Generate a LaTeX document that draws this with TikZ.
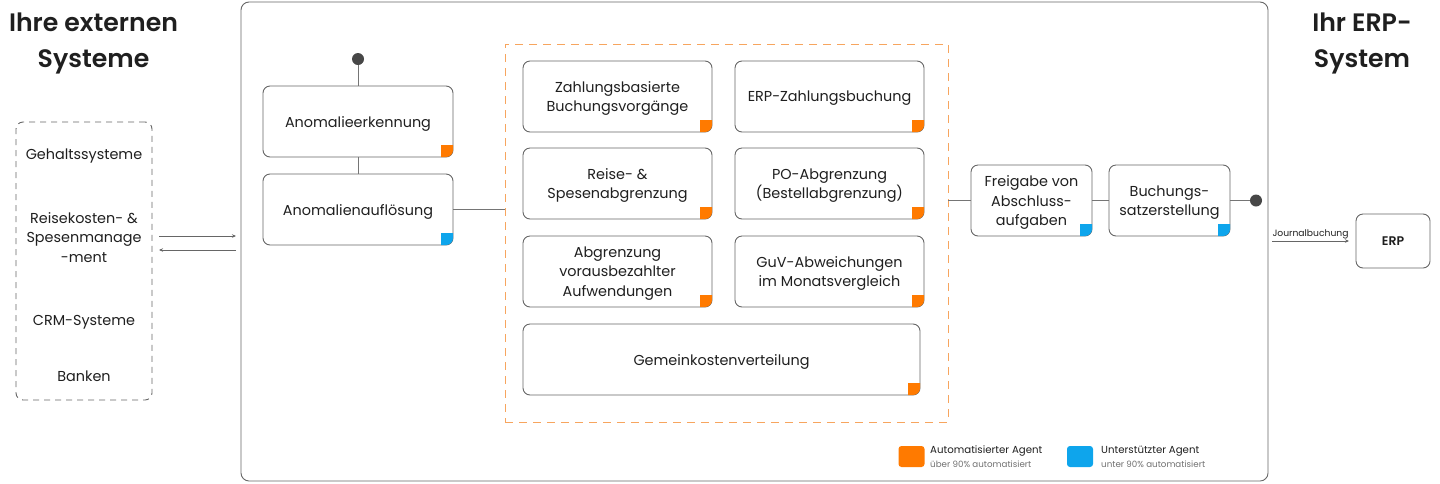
\documentclass[tikz,border=0pt]{standalone}
\usepackage{fontspec}
\setmainfont{Poppins}[BoldFont={Poppins SemiBold}]
\usetikzlibrary{arrows.meta,calc}
\definecolor{agorange}{HTML}{FF7A00}
\definecolor{agblue}{HTML}{0EA5EC}
\definecolor{dashor}{HTML}{F7A55E}
\definecolor{bord}{HTML}{666666}
\definecolor{txt}{HTML}{1F1F1F}
\definecolor{lgray}{HTML}{707070}
\newcommand\agentmark[2]{%
  \begin{scope}
    \clip ([xshift=-12pt,yshift=12pt]#1.south east) rectangle (#1.south east);
    \fill[#2, rounded corners=7pt] (#1.north west) rectangle (#1.south east);
  \end{scope}}
% \abox{name}{x}{y}{width}{text}{colour}
\newcommand\abox[6]{%
  \node[box, minimum width=#4pt, minimum height=71pt] (#1) at (#2,#3) {};
  \node[lbl] (#1-t) at ([yshift=-2pt]#1.center) {#5};
  \agentmark{#1}{#6}}
\tikzset{
  box/.style={draw=bord, line width=0.9pt, rounded corners=7pt, fill=white, outer sep=0pt, inner sep=0pt},
  conn/.style={draw=bord!90, line width=0.9pt},
  arr/.style={draw=bord, line width=0.8pt, -{Stealth[length=4pt,width=3.5pt]}},
  dot/.style={circle, fill=black!72, inner sep=0pt, minimum size=12pt, outer sep=0pt},
  lbl/.style={text=txt, font=\fontsize{14.4}{19.5}\selectfont, align=center, inner sep=0pt},
  title/.style={text=txt, font=\fontsize{25.2}{36}\selectfont\bfseries, align=center, inner sep=0pt},
}
\begin{document}
\begin{tikzpicture}[x=1pt,y=-1pt]
\useasboundingbox (0,0) rectangle (1440,483);
% titles
\node[title] (tl) at (93.5,43) {Ihre externen\\Systeme};
\node[title] (tr) at (1362,43) {Ihr ERP-\\System};
% main frame
\node[draw=bord, line width=0.9pt, rounded corners=8pt, minimum width=1027pt, minimum height=479pt, outer sep=0pt] (main) at (754.5,241.5) {};
% left dashed box
\node[draw=bord, dashed, dash pattern=on 6pt off 5pt, line width=0.9pt, rounded corners=7pt, minimum width=136pt, minimum height=278pt, outer sep=0pt] (lb) at (84,261) {};
\node[lbl] (s1) at (84,156) {Gehaltssysteme};
\node[lbl] (s2) at (84,237.5) {Reisekosten- \&\\Spesenmanage\\-ment};
\node[lbl] (s3) at (84,322) {CRM-Systeme};
\node[lbl] (s4) at (84,376) {Banken};
\draw[arr] ([xshift=7pt]lb.east |- 0,236) -- ([xshift=-5pt]main.west |- 0,236);
\draw[arr] ([xshift=-5pt]main.west |- 0,250) -- ([xshift=7pt]lb.east |- 0,250);
% orange dashed group
\node[draw=dashor, dashed, dash pattern=on 8pt off 6pt, line width=1pt, minimum width=443pt, minimum height=378pt, outer sep=0pt] (grp) at (726.5,233) {};
% anomaly boxes
\node[dot] (d1) at (358,59) {};
\abox{an1}{358}{121.5}{190}{Anomalieerkennung}{agorange}
\abox{an2}{358}{209.5}{190}{Anomalienauflösung}{agblue}
\draw[conn] (d1) -- (an1);
\draw[conn] (an1) -- (an2);
\draw[conn] (an2.east) -- (an2.east -| grp.west);
% inner boxes
\abox{z1}{617.5}{96.5}{189}{Zahlungsbasierte\\Buchungsvorgänge}{agorange}
\abox{z2}{829.5}{96.5}{189}{ERP-Zahlungsbuchung}{agorange}
\abox{r1}{617.5}{183.5}{189}{Reise- \&\\Spesenabgrenzung}{agorange}
\abox{r2}{829.5}{183.5}{189}{PO-Abgrenzung\\(Bestellabgrenzung)}{agorange}
\abox{a1}{617.5}{271.5}{189}{Abgrenzung\\vorausbezahlter\\Aufwendungen}{agorange}
\abox{a2}{829.5}{271.5}{189}{GuV-Abweichungen\\im Monatsvergleich}{agorange}
\abox{g}{721.5}{359.5}{397}{Gemeinkostenverteilung}{agorange}
% right chain
\abox{f}{1031.5}{200.5}{121}{Freigabe von\\Abschluss-\\aufgaben}{agblue}
\abox{b}{1169.5}{200.5}{121}{Buchungs-\\satzerstellung}{agblue}
\node[dot] (d2) at (1256,200.5) {};
\draw[conn] (f.west -| grp.east) -- (f.west);
\draw[conn] (f) -- (b);
\draw[conn] (b) -- (d2);
% ERP
\node[box, minimum width=74pt, minimum height=54pt, text=txt, font=\fontsize{12.5}{14}\selectfont\bfseries] (erp) at (1393,241) {ERP};
\draw[arr] ([xshift=4pt]main.east |- erp.west) -- node[above, font=\fontsize{9.2}{10}\selectfont, text=txt, inner sep=2pt] (jb) {Journalbuchung} ([xshift=-7pt]erp.west);
% legend
\node[fill=agorange, rounded corners=3pt, minimum width=26pt, minimum height=21pt, inner sep=0pt] (lo) at (911.5,456.5) {};
\node[fill=agblue, rounded corners=3pt, minimum width=26pt, minimum height=21pt, inner sep=0pt] (lbl2) at (1080,456.5) {};
\node[anchor=west, align=left, inner sep=0pt, text=txt, font=\fontsize{10.2}{11}\selectfont] (lt1) at (930,451) {Automatisierter Agent};
\node[anchor=west, align=left, inner sep=0pt, text=lgray, font=\fontsize{8.7}{10}\selectfont] (ls1) at (930,464) {über 90\% automatisiert};
\node[anchor=west, align=left, inner sep=0pt, text=txt, font=\fontsize{10.2}{11}\selectfont] (lt2) at (1101,451) {Unterstützter Agent};
\node[anchor=west, align=left, inner sep=0pt, text=lgray, font=\fontsize{8.7}{10}\selectfont] (ls2) at (1101,464) {unter 90\% automatisiert};
\end{tikzpicture}
\end{document}
